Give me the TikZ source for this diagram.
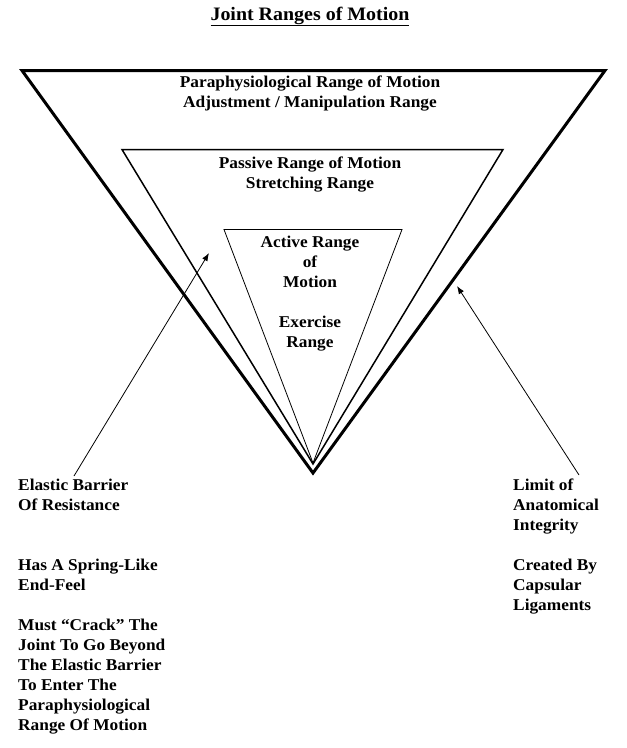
\documentclass[tikz,border=0pt]{standalone}
\usepackage{fontspec}
\setmainfont{Liberation Serif}[FakeStretch=1.05]
\usetikzlibrary{arrows.meta}
\tikzset{
	rangelbl/.style={font=\bfseries\fontsize{16.5}{20}\selectfont, align=center, inner sep=0pt, anchor=north},
	sidelbl/.style={font=\bfseries\fontsize{16.5}{20}\selectfont, align=left, inner sep=0pt, anchor=north west},
	pointer/.style={line width=0.8pt, -{Latex[length=8pt,width=6pt]}}
}

\begin{document}
\begin{tikzpicture}[x=1pt, y=-1pt]
		%%%%% START %%%%%
		\useasboundingbox (0, 0) rectangle (627, 748);
		
		\node[font=\bfseries\fontsize{19}{22}\selectfont, inner sep=0pt, anchor=base] (title) at (310, 20) {\underline{Joint Ranges of Motion}};
		
		% nested ranges
		\draw[line width=3pt] (22, 70.5) -- (605, 70.5) -- (313, 473) -- cycle;
		\draw[line width=1.5pt] (122, 149.5) -- (503, 149.5) -- (313, 464) -- cycle;
		\draw[line width=0.8pt] (224, 229.5) -- (402, 229.5) -- (313, 463) -- cycle;
		
		\node[rangelbl] (para) at (310, 76) {Paraphysiological Range of Motion\\Adjustment / Manipulation Range};
		\node[rangelbl] (passive) at (310, 157) {Passive Range of Motion\\Stretching Range};
		\node[rangelbl] (active) at (310, 236) {Active Range\\of\\Motion\\[20pt]Exercise\\Range};
		
		% side notes
		\node[sidelbl] (elastic) at (18, 479) {Elastic Barrier\\Of Resistance\\[40pt]Has A Spring-Like\\End-Feel\\[20pt]Must ``Crack'' The\\Joint To Go Beyond\\The Elastic Barrier\\To Enter The\\Paraphysiological\\Range Of Motion};
		\node[sidelbl] (limit) at (513, 479) {Limit of\\Anatomical\\Integrity\\[20pt]Created By\\Capsular\\Ligaments};
		
		\coordinate (elastictail) at (74, 476);
		\coordinate (elastichead) at (209, 253);
		\coordinate (limittail) at (579, 475);
		\coordinate (limithead) at (457, 286);
		\draw[pointer] (elastictail) -- (elastichead);
		\draw[pointer] (limittail) -- (limithead);
		
		%%%%% END %%%%%
	\end{tikzpicture}
\end{document}
